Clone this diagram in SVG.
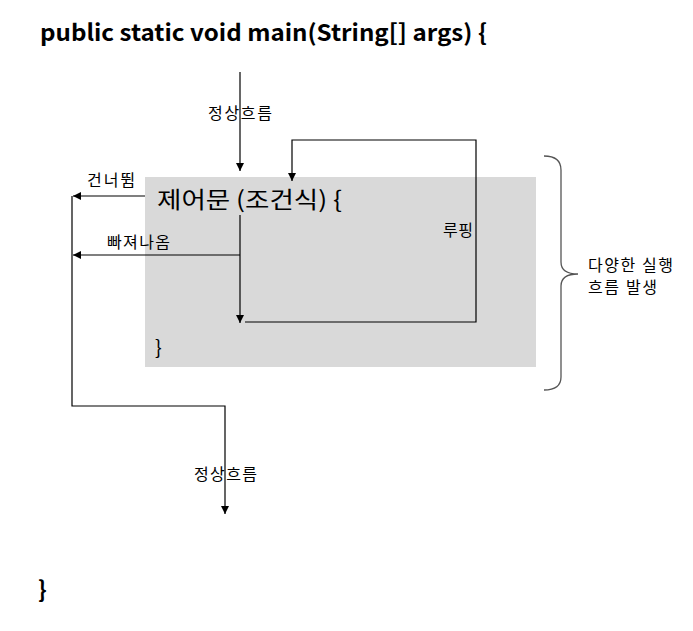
<svg xmlns="http://www.w3.org/2000/svg" width="693" height="631" viewBox="0 0 693 631">
<style>
.ln{fill:none;stroke:#000;stroke-width:1.2}
.t{font-family:"Noto Sans CJK KR","Noto Sans",sans-serif;fill:#000}
.s{font-size:16px}
.b{font-weight:bold;font-size:23px}
</style>
<defs>
<marker id="ah" viewBox="0 0 10 10" refX="10" refY="5" markerWidth="8" markerHeight="8" markerUnits="userSpaceOnUse" orient="auto">
<path d="M0,0 L10,5 L0,10 z" fill="#000"/>
</marker>
</defs>
<rect width="693" height="631" fill="#fff"/>
<text class="t b" x="40" y="41" textLength="447" lengthAdjust="spacingAndGlyphs">public static void main(String[] args) {</text>
<text class="t b" x="38" y="598">}</text>
<g id="block">
<rect x="145" y="177" width="391" height="190" fill="#d9d9d9"/>
<text class="t" x="157" y="208" font-size="23" textLength="185" lengthAdjust="spacingAndGlyphs">제어문 (조건식) {</text>
<text class="t" x="155" y="355" font-size="20">}</text>
</g>
<g id="brace">
<path d="M544,156 Q561,156 561,170 L561,262 Q561,274 578,274 Q561,274 561,286 L561,377 Q561,390 544,390" fill="none" stroke="#555" stroke-width="1.3"/>
<text class="t s" x="588" y="271" textLength="85">다양한 실행</text>
<text class="t s" x="588" y="293" textLength="69">흐름 발생</text>
</g>
<g id="connectors">
<line class="ln" x1="240" y1="72" x2="240" y2="171" marker-end="url(#ah)"/>
<polyline class="ln" points="145,196 73,196" marker-end="url(#ah)"/>
<polyline class="ln" points="240,255 73,255" marker-end="url(#ah)"/>
<polyline class="ln" points="240,215 240,323" marker-end="url(#ah)"/>
<polyline class="ln" points="245,322 476,322 476,140 292,140 292,181" marker-end="url(#ah)"/>
<polyline class="ln" points="72,196 72,406 225,406 225,514" marker-end="url(#ah)"/>
</g>
<g id="labels">
<text class="t s" x="208" y="119" textLength="64">정상흐름</text>
<text class="t s" x="87" y="186" textLength="48">건너뜀</text>
<text class="t s" x="107" y="248" textLength="63">빠져나옴</text>
<text class="t s" x="443" y="236" textLength="30">루핑</text>
<text class="t s" x="194" y="480" textLength="63">정상흐름</text>
</g>
</svg>
